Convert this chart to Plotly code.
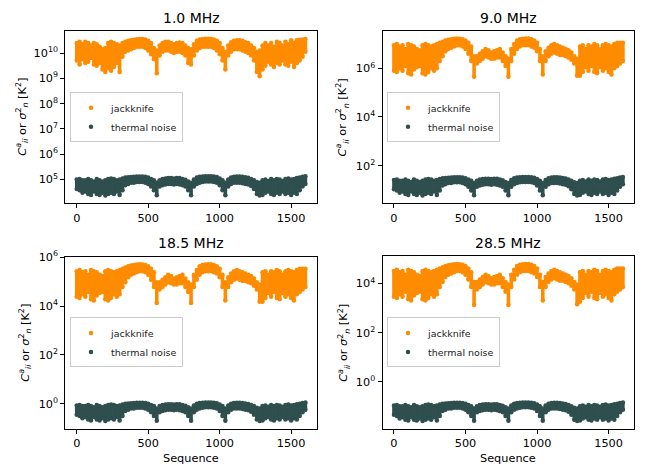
import numpy as np
import plotly.graph_objects as go

# ---------------- data (log10 of K^2) ----------------
SEQ = list(range(0, 1601, 20))
TITLES = ["1.0 MHz", "9.0 MHz", "18.5 MHz", "28.5 MHz"]
SERIES = ["jackknife", "thermal noise"]

JK1_HI = [10.40,10.45,10.35,10.45,10.40,10.30,10.40,10.35,10.25,10.15,
          10.20,10.40,10.45,10.40,10.35,10.30,10.40,10.45,10.48,10.50,
          10.52,10.54,10.55,10.55,10.53,10.48,10.40,10.20,10.10,10.30,
          10.40,10.45,10.45,10.40,10.35,10.40,10.42,10.40,10.30,10.20,
          10.15,10.35,10.48,10.53,10.55,10.56,10.56,10.55,10.53,10.48,
          10.40,10.20,10.05,10.30,10.43,10.48,10.50,10.50,10.48,10.43,
          10.40,10.30,10.20,10.05,10.10,10.30,10.40,10.30,10.40,10.25,
          10.45,10.40,10.30,10.45,10.35,10.50,10.40,10.50,10.52,10.53,
          10.55]
JK1_LO = [9.70,9.55,9.75,9.60,9.65,9.80,9.55,9.50,9.60,9.35,
          9.25,9.40,9.30,9.45,9.60,9.25,9.85,10.05,10.10,10.15,
          10.20,10.25,10.25,10.25,10.20,10.10,9.95,9.75,9.20,9.90,
          10.05,10.10,10.10,10.05,10.00,10.05,10.05,10.00,9.90,9.60,
          9.55,9.90,10.10,10.20,10.25,10.25,10.25,10.25,10.20,10.10,
          9.95,9.70,9.35,9.90,10.05,10.15,10.15,10.15,10.10,10.05,
          10.00,9.90,9.70,9.25,9.08,9.35,9.50,9.65,9.55,9.45,
          9.60,9.55,9.70,9.55,9.50,9.65,9.45,9.60,9.70,9.85,
          10.05]
TN1_HI = [5.00,5.02,4.97,4.97,5.02,4.97,4.92,5.02,4.97,4.92,
          4.97,5.02,5.04,5.02,4.97,5.00,5.04,5.07,5.08,5.09,
          5.10,5.11,5.11,5.11,5.10,5.07,5.02,4.97,4.87,4.97,
          5.02,5.04,5.05,5.05,5.04,5.05,5.05,5.02,4.99,4.92,
          4.87,5.00,5.07,5.10,5.11,5.12,5.12,5.12,5.11,5.09,
          5.04,4.97,4.87,5.00,5.07,5.10,5.11,5.11,5.10,5.08,
          5.06,5.02,4.97,4.90,4.87,4.97,5.00,4.94,5.02,4.97,
          5.02,5.00,4.94,5.02,5.04,5.00,5.02,5.05,5.07,5.10,
          5.12]
TN1_LO = [4.62,4.57,4.47,4.52,4.42,4.38,4.52,4.42,4.38,4.47,
          4.36,4.42,4.47,4.42,4.52,4.38,4.57,4.77,4.82,4.87,
          4.87,4.90,4.90,4.90,4.87,4.82,4.72,4.57,4.37,4.72,
          4.77,4.80,4.82,4.82,4.80,4.82,4.80,4.77,4.72,4.57,
          4.37,4.72,4.82,4.87,4.90,4.92,4.92,4.92,4.90,4.87,
          4.77,4.57,4.37,4.72,4.82,4.87,4.87,4.87,4.85,4.82,
          4.80,4.74,4.62,4.42,4.36,4.38,4.47,4.52,4.42,4.38,
          4.47,4.42,4.52,4.42,4.47,4.38,4.47,4.42,4.57,4.72,
          4.82]

JK2_HI = [6.95,7.00,6.90,6.95,6.80,7.00,6.95,6.90,6.80,6.75,
          6.95,7.00,6.95,6.90,6.95,7.00,7.05,7.10,7.15,7.18,
          7.20,7.22,7.23,7.22,7.20,7.15,7.05,6.90,6.50,6.50,
          6.60,6.70,6.80,6.75,6.65,6.70,6.75,6.80,6.65,6.50,
          6.40,6.80,7.00,7.15,7.20,7.22,7.23,7.23,7.20,7.15,
          7.05,6.80,6.50,6.70,6.85,6.95,7.00,6.95,6.90,6.85,
          6.80,6.75,6.65,6.50,6.40,6.90,6.95,6.80,6.95,6.90,
          7.00,6.95,6.80,6.95,7.00,6.95,6.90,7.00,7.05,7.05,
          7.05]
JK2_LO = [5.90,5.85,6.00,5.90,6.10,5.80,5.75,5.95,6.05,6.10,
          5.80,5.75,5.85,6.00,5.90,6.00,6.30,6.50,6.70,6.80,
          6.85,6.90,6.95,6.95,6.90,6.80,6.60,6.30,5.65,6.20,
          6.30,6.40,6.50,6.45,6.40,6.40,6.45,6.45,6.30,6.10,
          5.65,6.30,6.60,6.80,6.90,6.95,6.95,6.95,6.90,6.85,
          6.70,6.30,5.75,6.30,6.50,6.60,6.65,6.60,6.55,6.55,
          6.50,6.45,6.35,6.20,5.70,5.70,5.85,6.05,5.90,6.10,
          5.85,5.80,6.05,5.90,6.00,5.85,5.75,6.00,6.10,6.20,
          6.30]
TN2_HI = [1.41,1.43,1.38,1.38,1.43,1.38,1.33,1.43,1.38,1.33,
          1.38,1.43,1.45,1.43,1.38,1.41,1.45,1.48,1.49,1.50,
          1.51,1.52,1.52,1.52,1.51,1.48,1.43,1.38,1.28,1.38,
          1.43,1.45,1.46,1.46,1.45,1.46,1.46,1.43,1.40,1.33,
          1.28,1.41,1.48,1.51,1.52,1.53,1.53,1.53,1.52,1.50,
          1.45,1.38,1.28,1.41,1.48,1.51,1.52,1.52,1.51,1.49,
          1.47,1.43,1.38,1.31,1.28,1.38,1.41,1.35,1.43,1.38,
          1.43,1.41,1.35,1.43,1.45,1.41,1.43,1.46,1.48,1.51,
          1.53]
TN2_LO = [1.03,0.98,0.88,0.93,0.83,0.79,0.93,0.83,0.79,0.88,
          0.77,0.83,0.88,0.83,0.93,0.79,0.98,1.18,1.23,1.28,
          1.28,1.31,1.31,1.31,1.28,1.23,1.13,0.98,0.78,1.13,
          1.18,1.21,1.23,1.23,1.21,1.23,1.21,1.18,1.13,0.98,
          0.78,1.13,1.23,1.28,1.31,1.33,1.33,1.33,1.31,1.28,
          1.18,0.98,0.78,1.13,1.23,1.28,1.28,1.28,1.26,1.23,
          1.21,1.15,1.03,0.83,0.77,0.79,0.88,0.93,0.83,0.79,
          0.88,0.83,0.93,0.83,0.88,0.79,0.88,0.83,0.98,1.13,
          1.23]

JK3_HI = [5.43,5.48,5.38,5.43,5.28,5.48,5.43,5.38,5.28,5.23,
          5.43,5.48,5.43,5.38,5.43,5.48,5.53,5.58,5.63,5.66,
          5.68,5.70,5.71,5.70,5.68,5.63,5.53,5.38,4.98,4.98,
          5.08,5.18,5.28,5.23,5.13,5.18,5.23,5.28,5.13,4.98,
          4.88,5.28,5.48,5.63,5.68,5.70,5.71,5.71,5.68,5.63,
          5.53,5.28,4.98,5.18,5.33,5.43,5.48,5.43,5.38,5.33,
          5.28,5.23,5.13,4.98,4.88,5.38,5.43,5.28,5.43,5.38,
          5.48,5.43,5.28,5.43,5.48,5.43,5.38,5.48,5.53,5.53,
          5.53]
JK3_LO = [4.38,4.33,4.48,4.38,4.58,4.28,4.23,4.43,4.53,4.58,
          4.28,4.23,4.33,4.48,4.38,4.48,4.78,4.98,5.18,5.28,
          5.33,5.38,5.43,5.43,5.38,5.28,5.08,4.78,4.13,4.68,
          4.78,4.88,4.98,4.93,4.88,4.88,4.93,4.93,4.78,4.58,
          4.13,4.78,5.08,5.28,5.38,5.43,5.43,5.43,5.38,5.33,
          5.18,4.78,4.23,4.78,4.98,5.08,5.13,5.08,5.03,5.03,
          4.98,4.93,4.83,4.68,4.18,4.18,4.33,4.53,4.38,4.58,
          4.33,4.28,4.53,4.38,4.48,4.33,4.23,4.48,4.58,4.68,
          4.78]
TN3_HI = [-0.07,-0.05,-0.10,-0.10,-0.05,-0.10,-0.15,-0.05,-0.10,-0.15,
          -0.10,-0.05,-0.03,-0.05,-0.10,-0.07,-0.03,0.00,0.01,0.02,
          0.03,0.04,0.04,0.04,0.03,0.00,-0.05,-0.10,-0.20,-0.10,
          -0.05,-0.03,-0.02,-0.02,-0.03,-0.02,-0.02,-0.05,-0.08,-0.15,
          -0.20,-0.07,0.00,0.03,0.04,0.05,0.05,0.05,0.04,0.02,
          -0.03,-0.10,-0.20,-0.07,0.00,0.03,0.04,0.04,0.03,0.01,
          -0.01,-0.05,-0.10,-0.17,-0.20,-0.10,-0.07,-0.13,-0.05,-0.10,
          -0.05,-0.07,-0.13,-0.05,-0.03,-0.07,-0.05,-0.02,0.00,0.03,
          0.05]
TN3_LO = [-0.45,-0.50,-0.60,-0.55,-0.65,-0.69,-0.55,-0.65,-0.69,-0.60,
          -0.71,-0.65,-0.60,-0.65,-0.55,-0.69,-0.50,-0.30,-0.25,-0.20,
          -0.20,-0.17,-0.17,-0.17,-0.20,-0.25,-0.35,-0.50,-0.70,-0.35,
          -0.30,-0.27,-0.25,-0.25,-0.27,-0.25,-0.27,-0.30,-0.35,-0.50,
          -0.70,-0.35,-0.25,-0.20,-0.17,-0.15,-0.15,-0.15,-0.17,-0.20,
          -0.30,-0.50,-0.70,-0.35,-0.25,-0.20,-0.20,-0.20,-0.22,-0.25,
          -0.27,-0.33,-0.45,-0.65,-0.71,-0.69,-0.60,-0.55,-0.65,-0.69,
          -0.60,-0.65,-0.55,-0.65,-0.60,-0.69,-0.60,-0.65,-0.50,-0.35,
          -0.25]

JK4_HI = [4.51,4.56,4.46,4.51,4.36,4.56,4.51,4.46,4.36,4.31,
          4.51,4.56,4.51,4.46,4.51,4.56,4.61,4.66,4.71,4.74,
          4.76,4.78,4.79,4.78,4.76,4.71,4.61,4.46,4.06,4.06,
          4.16,4.26,4.36,4.31,4.21,4.26,4.31,4.36,4.21,4.06,
          3.96,4.36,4.56,4.71,4.76,4.78,4.79,4.79,4.76,4.71,
          4.61,4.36,4.06,4.26,4.41,4.51,4.56,4.51,4.46,4.41,
          4.36,4.31,4.21,4.06,3.96,4.46,4.51,4.36,4.51,4.46,
          4.56,4.51,4.36,4.51,4.56,4.51,4.46,4.56,4.61,4.61,
          4.61]
JK4_LO = [3.46,3.41,3.56,3.46,3.66,3.36,3.31,3.51,3.61,3.66,
          3.36,3.31,3.41,3.56,3.46,3.56,3.86,4.06,4.26,4.36,
          4.41,4.46,4.51,4.51,4.46,4.36,4.16,3.86,3.12,3.76,
          3.86,3.96,4.06,4.01,3.96,3.96,4.01,4.01,3.86,3.66,
          3.12,3.86,4.16,4.36,4.46,4.51,4.51,4.51,4.46,4.41,
          4.26,3.86,3.31,3.86,4.06,4.16,4.21,4.16,4.11,4.11,
          4.06,4.01,3.91,3.76,3.15,3.26,3.41,3.61,3.46,3.66,
          3.41,3.36,3.61,3.46,3.56,3.41,3.31,3.56,3.66,3.76,
          3.86]
TN4_HI = [-0.97,-0.95,-1.00,-1.00,-0.95,-1.00,-1.05,-0.95,-1.00,-1.05,
          -1.00,-0.95,-0.93,-0.95,-1.00,-0.97,-0.93,-0.90,-0.89,-0.88,
          -0.87,-0.86,-0.86,-0.86,-0.87,-0.90,-0.95,-1.00,-1.10,-1.00,
          -0.95,-0.93,-0.92,-0.92,-0.93,-0.92,-0.92,-0.95,-0.98,-1.05,
          -1.10,-0.97,-0.90,-0.87,-0.86,-0.85,-0.85,-0.85,-0.86,-0.88,
          -0.93,-1.00,-1.10,-0.97,-0.90,-0.87,-0.86,-0.86,-0.87,-0.89,
          -0.91,-0.95,-1.00,-1.07,-1.10,-1.00,-0.97,-1.03,-0.95,-1.00,
          -0.95,-0.97,-1.03,-0.95,-0.93,-0.97,-0.95,-0.92,-0.90,-0.87,
          -0.85]
TN4_LO = [-1.35,-1.40,-1.50,-1.45,-1.55,-1.59,-1.45,-1.55,-1.59,-1.50,
          -1.61,-1.55,-1.50,-1.55,-1.45,-1.59,-1.40,-1.20,-1.15,-1.10,
          -1.10,-1.07,-1.07,-1.07,-1.10,-1.15,-1.25,-1.40,-1.60,-1.25,
          -1.20,-1.17,-1.15,-1.15,-1.17,-1.15,-1.17,-1.20,-1.25,-1.40,
          -1.60,-1.25,-1.15,-1.10,-1.07,-1.05,-1.05,-1.05,-1.07,-1.10,
          -1.20,-1.40,-1.60,-1.25,-1.15,-1.10,-1.10,-1.10,-1.12,-1.15,
          -1.17,-1.23,-1.35,-1.55,-1.61,-1.59,-1.50,-1.45,-1.55,-1.59,
          -1.50,-1.55,-1.45,-1.55,-1.50,-1.59,-1.50,-1.55,-1.40,-1.25,
          -1.15]

XTICKS = [0, 500, 1000, 1500]
YTICK_EXP = [[5, 6, 7, 8, 9, 10], [2, 4, 6], [0, 2, 4, 6], [0, 2, 4]]
YTICK_TEXT = [["10<sup>5</sup>", "10<sup>6</sup>", "10<sup>7</sup>", "10<sup>8</sup>",
               "10<sup>9</sup>", "10<sup>10</sup>"],
              ["10<sup>2</sup>", "10<sup>4</sup>", "10<sup>6</sup>"],
              ["10<sup>0</sup>", "10<sup>2</sup>", "10<sup>4</sup>", "10<sup>6</sup>"],
              ["10<sup>0</sup>", "10<sup>2</sup>", "10<sup>4</sup>"]]

PANELS = [
    (JK1_HI, JK1_LO, TN1_HI, TN1_LO),
    (JK2_HI, JK2_LO, TN2_HI, TN2_LO),
    (JK3_HI, JK3_LO, TN3_HI, TN3_LO),
    (JK4_HI, JK4_LO, TN4_HI, TN4_LO),
]

# ---------------- styling / layout ----------------
W, H = 651, 468
FONT = "DejaVu Sans"
COLORS = ["#ff8c00", "#2f4f4f"]
XDOM = [[65.3, 316.7], [382.5, 634.2], [65.3, 316.7], [382.5, 634.2]]
YDOM = [[24.3, 199.3], [24.0, 199.3], [253.3, 428.3], [253.0, 428.3]]
YRANGE = [[4.053, 10.873], [0.448, 7.552], [-1.033, 6.03], [-1.928, 5.112]]
XRANGE = [-80, 1679]
LEG_POS = [(70, 112), (387, 112), (70, 340.5), (387, 340.5)]
YLAB_X = [22.5, 342.4, 25.0, 343.3]

fig = go.Figure()
ylabel = ("<i>C</i><sup><i>a</i></sup><sub><i>ii</i></sub> or "
          "<i>σ</i><sup>2</sup><sub><i>n</i></sub> [K<sup>2</sup>]")
annotations = []

for i, (jh, jl, th, tl) in enumerate(PANELS):
    k = i + 1
    xa = "x" if k == 1 else f"x{k}"
    ya = "y" if k == 1 else f"y{k}"
    leg = "legend" if k == 1 else f"legend{k}"
    for (hi, lo), name, col in zip([(jh, jl), (th, tl)], SERIES, COLORS):
        hi_v = 10 ** np.array(hi)
        lo_v = 10 ** np.array(lo)
        n = len(SEQ)
        fig.add_trace(go.Scatter(
            x=SEQ + SEQ, y=np.concatenate([lo_v, hi_v]),
            mode="markers", name=name, legend=leg,
            marker=dict(color=col, size=4.5),
            error_y=dict(type="data", symmetric=False,
                         array=np.concatenate([hi_v - lo_v, np.zeros(n)]),
                         arrayminus=np.zeros(2 * n),
                         thickness=3.6, width=0, color=col),
            xaxis=xa, yaxis=ya, hoverinfo="skip"))

    axname_x = "xaxis" if k == 1 else f"xaxis{k}"
    axname_y = "yaxis" if k == 1 else f"yaxis{k}"
    fig.update_layout(**{
        axname_x: dict(domain=[XDOM[i][0] / W, XDOM[i][1] / W], range=XRANGE,
                       anchor=ya, tickvals=XTICKS, ticks="outside", ticklen=4,
                       tickwidth=1, tickcolor="black", showline=True, mirror=True,
                       linecolor="black", linewidth=1, showgrid=False, zeroline=False,
                       tickfont=dict(family=FONT, size=11.3, color="black")),
        axname_y: dict(domain=[1 - YDOM[i][1] / H, 1 - YDOM[i][0] / H], type="log",
                       range=YRANGE[i], anchor=xa,
                       tickvals=[10 ** e for e in YTICK_EXP[i]], ticktext=YTICK_TEXT[i],
                       ticks="outside", ticklen=4, tickwidth=1, tickcolor="black",
                       showline=True, mirror=True, linecolor="black", linewidth=1,
                       showgrid=False, zeroline=False,
                       tickfont=dict(family=FONT, size=11.3, color="black")),
        leg: dict(x=LEG_POS[i][0] / W, y=1 - LEG_POS[i][1] / H, xanchor="left",
                  yanchor="middle", bgcolor="rgba(255,255,255,0.8)", bordercolor="#cccccc",
                  borderwidth=1, font=dict(family=FONT, size=9.5, color="#222222"),
                  tracegroupgap=0, itemwidth=30),
    })
    cx = (XDOM[i][0] + XDOM[i][1]) / 2 / W
    cy = 1 - (YDOM[i][0] + YDOM[i][1]) / 2 / H
    ty = 11.5 if i < 2 else 239.5
    annotations.append(dict(text=TITLES[i], x=cx, y=1 - ty / H, xref="paper", yref="paper",
                            showarrow=False, xanchor="center", yanchor="middle",
                            font=dict(family=FONT, size=14, color="black")))
    annotations.append(dict(text=ylabel, x=YLAB_X[i] / W, y=cy, xref="paper", yref="paper",
                            showarrow=False, textangle=-90, xanchor="center", yanchor="middle",
                            font=dict(family=FONT, size=11.3, color="black")))
    if i >= 2:
        annotations.append(dict(text="Sequence", x=cx, y=1 - 458.3 / H, xref="paper",
                                yref="paper", showarrow=False, xanchor="center",
                                yanchor="middle",
                                font=dict(family=FONT, size=11.3, color="black")))

fig.update_layout(width=W, height=H, margin=dict(l=0, r=0, t=0, b=0),
                  paper_bgcolor="white", plot_bgcolor="white",
                  annotations=annotations, showlegend=True)

fig.write_html("out.html")
